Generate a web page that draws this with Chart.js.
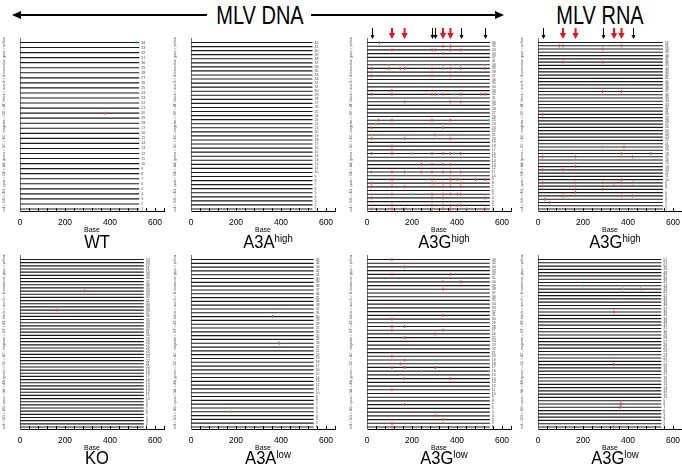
<!DOCTYPE html>
<html><head><meta charset="utf-8">
<script src="https://cdn.jsdelivr.net/npm/chart.js@4.4.1/dist/chart.umd.min.js"></script>
<style>
html,body{margin:0;padding:0;background:#fff;}
body{width:682px;height:471px;overflow:hidden;position:relative;font-family:"Liberation Sans",Arial,sans-serif;color:#000;}
canvas.cv{position:absolute;}
.title{position:absolute;font-size:18px;line-height:18px;white-space:nowrap;transform:translateX(-50%) scaleX(0.92);transform-origin:center;}
.title .sup{font-size:10.5px;position:relative;top:-5.5px;}
.hdr{position:absolute;top:3px;font-size:25px;line-height:25px;white-space:nowrap;transform:translateX(-50%) scaleX(0.8);transform-origin:center;}
.aline{position:absolute;height:2px;background:#000;}
.headL{position:absolute;width:0;height:0;border-top:4.5px solid transparent;border-bottom:4.5px solid transparent;border-right:9px solid #000;}
.headR{position:absolute;width:0;height:0;border-top:4.5px solid transparent;border-bottom:4.5px solid transparent;border-left:9px solid #000;}
</style>
</head><body>
<div class="aline" style="left:20px;top:14px;width:187px"></div>
<div class="headL" style="left:12px;top:10.5px"></div>
<div class="hdr" style="left:260px">MLV DNA</div>
<div class="aline" style="left:311px;top:14px;width:185px"></div>
<div class="headR" style="left:495px;top:10.5px"></div>
<div class="hdr" style="left:600px">MLV RNA</div>
<script>
// ---------------- data ----------------
const xTickLabels = [0, 200, 400, 600];
const panelTitles = ['WT', 'A3A', 'A3G', 'A3G', 'KO', 'A3A', 'A3G', 'A3G'];
const panelSuperscripts = ['', 'high', 'high', 'high', '', 'low', 'low', 'low'];
const sequenceCounts = [34, 42, 46, 52, 54, 45, 46, 52];
const readLengths = [530, 540, 546, 555, 550, 545, 546, 548];
const dnaHotspotsRed = [111, 167, 338, 371];
const dnaHotspotsBlack = [20, 289, 304, 416, 524];
const rnaHotspotsRed = [111, 167, 338, 371];
const rnaHotspotsBlack = [20, 287, 420];
const legendText = 'red = GG > AG, cyan = GA > AA, green = GC > AC, magenta = GT > AT, black = non G > A transition, gaps = yellow';

// mutations: [sequence index from top, base position, context (default GG)]
const wtMutations = [[0, 516, 'GA'], [14, 378, 'GT']];
const a3aHighMutations = [];
const a3gHighDnaMutations = [
  [0,55,'GT'],
  [1,338],[1,371],
  [2,111],[2,289],[2,304],[2,371],[2,416],
  [3,338],
  [7,20],[7,97],[7,148],[7,167],[7,289],[7,338],[7,371],[7,416],[7,524],
  [9,20],[9,289],[9,371],
  [13,111],
  [14,20],[14,111],[14,289],[14,304],[14,319,'GA'],[14,338],[14,388,'GA'],[14,416],[14,506],[14,524],
  [16,167],[16,371],[16,416],
  [21,51],[21,111],[21,289],[21,371],[21,540,'GA'],
  [22,35,'GC'],
  [23,20],[23,338],
  [25,304],
  [26,20],[26,167],[26,371],
  [28,111],[29,111],
  [30,20],[30,111],[30,201,'GA'],[30,289],[30,338],[30,371],[30,388,'GA'],[30,416],
  [33,242],[33,289],[33,338],[33,371],
  [35,20],[35,111],[35,167],[35,242],[35,289],[35,338],[35,371],[35,416],
  [37,111],[37,289],[37,371],[37,402],[37,482],[37,524],
  [38,20],[38,111],[38,289],[38,304],[38,338],[38,371],[38,416],
  [39,20],[39,111],[39,167],[39,338],[39,371],[39,416],
  [41,111],[41,201,'GA'],[41,289],[41,338],[41,371],[41,402],[41,416],
  [42,20],[42,289],[42,338],[42,524],
  [44,111],[44,289],[44,338],[44,371],[44,402],[44,416],
  [45,20],[45,111],[45,167],[45,289],[45,338],[45,371],[45,443],[45,524]
];
const a3gHighRnaMutations = [
  [1,95],[1,111],[1,371],
  [2,287],
  [6,111],[6,287],
  [15,287],[15,371],
  [22,20],
  [32,287,'GA'],[32,382],
  [34,371],[34,502],
  [35,20],[35,167],[35,420],
  [38,167],
  [39,20],[39,111],
  [42,371],
  [43,20],[43,167],[43,287],[43,338],[43,371],[43,420],
  [45,167],[45,287],
  [46,167],
  [47,111],[47,371],[47,420],
  [48,30],
  [49,51]
];
const koMutations = [[10, 288], [16, 166]];
const a3aLowMutations = [[15, 362], [22, 392], [40, 177, 'GC']];
const a3gLowDnaMutations = [
  [0,111],[2,167],[4,111],[4,371],[6,338],[6,416],[8,338],
  [15,338],[16,111],[18,111],[18,167],[19,111],[19,338],[20,304],[21,167],
  [26,111],[27,167],[28,148],[29,111],[29,167],[29,304],
  [30,242,'GA'],[30,540,'GA'],
  [32,167],[32,371],[35,111],[39,167],[42,304],[43,338],[44,111],[45,111]
];
const a3gLowRnaMutations = [
  [8,200,'GA'],[9,378,'GA'],[9,455],[16,338],[32,336],[44,366],[44,371],[45,366],[51,336]
];
const panelMutations = [wtMutations, a3aHighMutations, a3gHighDnaMutations, a3gHighRnaMutations,
                        koMutations, a3aLowMutations, a3gLowDnaMutations, a3gLowRnaMutations];
const panelHotspots = [null, null, {red: dnaHotspotsRed, black: dnaHotspotsBlack}, {red: rnaHotspotsRed, black: rnaHotspotsBlack},
                       null, null, null, null];

// ---------------- layout / style ----------------
const contextColors = {GG: '#e2474c', GA: '#48c4cc', GC: '#68c068', GT: '#c455c8'};
const colX0 = [20, 191, 367, 538];
const rowTop = [38, 255];
const rowAxis = [211, 429];
const AXIS_W = 20, PLOT_W = 154, XAXIS_H = 30, PAD_TOP = 12;

const seqLabelPlugin = {
  id: 'seqLabels',
  afterDatasetsDraw(chart, args, opts) {
    const {ctx} = chart;
    const xs = chart.scales.x, ys = chart.scales.y;
    ctx.save();
    ctx.font = '3.6px "Liberation Sans", Arial';
    ctx.fillStyle = '#444';
    ctx.textBaseline = 'middle';
    for (let i = 0; i < opts.count; i++) {
      ctx.fillText(String(opts.count - i), xs.getPixelForValue(opts.len) + 2, ys.getPixelForValue(i));
    }
    ctx.restore();
  }
};
const hotspotPlugin = {
  id: 'hotspots',
  afterDraw(chart, args, opts) {
    if (!opts || !opts.red) return;
    const {ctx, chartArea} = chart;
    const xs = chart.scales.x;
    const tip = chartArea.top + 1;
    ctx.save();
    opts.black.forEach(v => {
      const x = Math.round(xs.getPixelForValue(v)) + 0.5;
      ctx.strokeStyle = '#000'; ctx.fillStyle = '#000'; ctx.lineWidth = 1;
      ctx.beginPath(); ctx.moveTo(x, tip - 11); ctx.lineTo(x, tip - 3); ctx.stroke();
      ctx.beginPath(); ctx.moveTo(x - 2, tip - 4); ctx.lineTo(x + 2, tip - 4); ctx.lineTo(x, tip); ctx.closePath(); ctx.fill();
    });
    opts.red.forEach(v => {
      const x = xs.getPixelForValue(v);
      ctx.strokeStyle = '#e8141c'; ctx.fillStyle = '#e8141c'; ctx.lineWidth = 2;
      ctx.beginPath(); ctx.moveTo(x, tip - 11); ctx.lineTo(x, tip - 5); ctx.stroke();
      ctx.beginPath(); ctx.moveTo(x - 3.2, tip - 6); ctx.lineTo(x + 3.2, tip - 6); ctx.lineTo(x, tip); ctx.closePath(); ctx.fill();
    });
    ctx.restore();
  }
};

for (let p = 0; p < 8; p++) {
  const col = p % 4, row = Math.floor(p / 4);
  const n = sequenceCounts[p], len = readLengths[p];
  const H = rowAxis[row] - rowTop[row];
  const cv = document.createElement('canvas');
  cv.className = 'cv';
  cv.width = AXIS_W + PLOT_W;
  cv.height = PAD_TOP + H + XAXIS_H;
  cv.style.left = (colX0[col] - AXIS_W) + 'px';
  cv.style.top = (rowTop[row] - PAD_TOP) + 'px';
  cv.style.width = cv.width + 'px';
  cv.style.height = cv.height + 'px';
  document.body.appendChild(cv);

  const s = (H - 4.5 - 2) / (n - 1);
  const datasets = [];
  datasets.push({
    data: panelMutations[p].map(m => ({x: m[1], y: m[0]})),
    showLine: false,
    pointStyle: 'line',
    rotation: 90,
    pointRadius: 1.5,
    pointBorderWidth: 1.2,
    pointBorderColor: panelMutations[p].map(m => contextColors[m[2] || 'GG']),
    pointBackgroundColor: panelMutations[p].map(m => contextColors[m[2] || 'GG']),
    order: 0
  });
  for (let i = 0; i < n; i++) {
    datasets.push({
      data: [{x: 0, y: i}, {x: len, y: i}],
      showLine: true,
      borderColor: '#1a1a1a',
      borderWidth: 1.15,
      pointRadius: 0,
      order: 1
    });
  }

  new Chart(cv.getContext('2d'), {
    type: 'scatter',
    data: {datasets},
    options: {
      responsive: false, animation: false, devicePixelRatio: 1,
      layout: {padding: {top: PAD_TOP, left: 0, right: 0, bottom: 0}},
      events: [],
      plugins: {
        legend: {display: false}, tooltip: {enabled: false},
        seqLabels: {count: n, len: len},
        hotspots: panelHotspots[p] || {}
      },
      scales: {
        x: {
          type: 'linear', min: 0, max: 640,
          afterFit: sc => { sc.height = XAXIS_H; },
          border: {display: true, color: '#000', width: 1},
          grid: {display: true, drawOnChartArea: false, tickLength: -3, color: '#000', tickWidth: 1},
          ticks: {stepSize: 40, autoSkip: false, maxRotation: 0, padding: 10, color: '#000',
                  font: {size: 8.5, family: '"Liberation Sans", Arial'},
                  callback: v => xTickLabels.includes(v) ? String(v) : ''},
          title: {display: true, text: 'Base', color: '#000', font: {size: 7, family: '"Liberation Sans", Arial'},
                  padding: {top: 0, bottom: 6.3}}
        },
        y: {
          type: 'linear', reverse: true, min: -4.5 / s, max: (n - 1) + 2 / s,
          afterFit: sc => { sc.width = AXIS_W; },
          border: {display: true, color: '#777', width: 1},
          grid: {display: false},
          ticks: {display: false},
          title: {display: true, text: legendText, color: '#555', font: {size: 3.4, family: '"Liberation Sans", Arial'},
                  padding: {top: 2.5, bottom: 0}}
        }
      }
    },
    plugins: [seqLabelPlugin, hotspotPlugin]
  });

  const t = document.createElement('div');
  t.className = 'title';
  t.style.left = (colX0[col] + PLOT_W / 2) + 'px';
  t.style.top = (row === 0 ? 232.6 : 448.6) + 'px';
  t.innerHTML = panelTitles[p] + (panelSuperscripts[p] ? '<span class="sup">' + panelSuperscripts[p] + '</span>' : '');
  document.body.appendChild(t);
}
</script>
</body></html>
